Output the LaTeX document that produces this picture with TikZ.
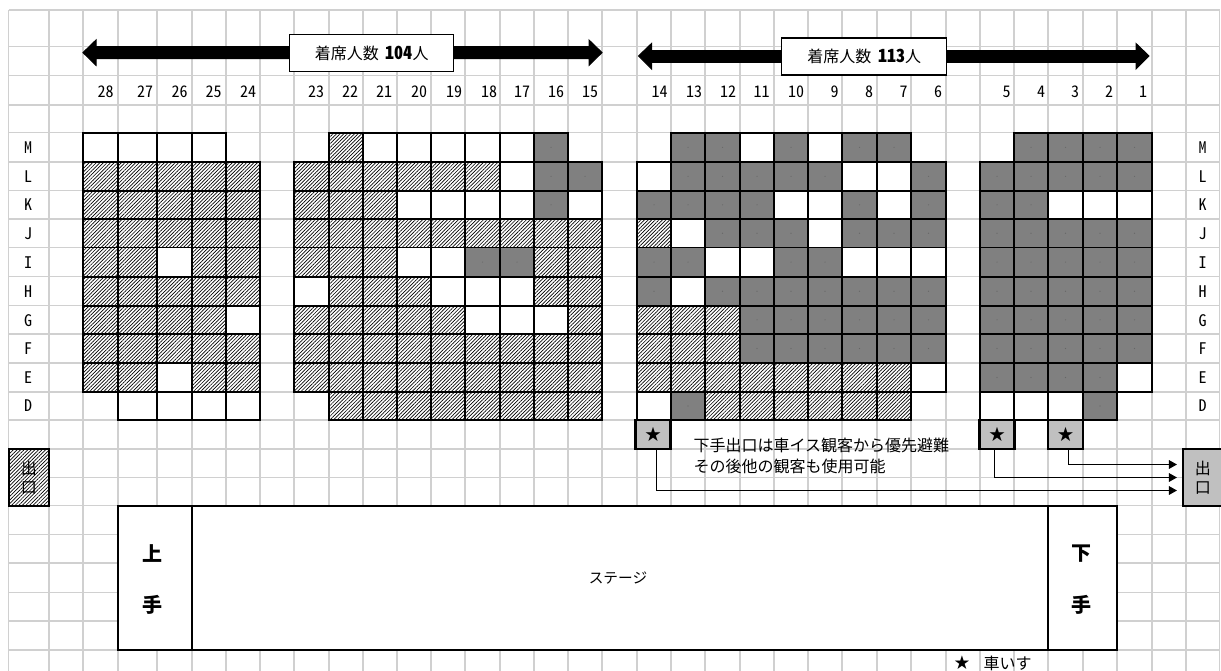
\documentclass[tikz,border=0pt]{standalone}
\usepackage{fontspec}
\setmainfont{Noto Sans CJK JP}
\newfontfamily\halffont[RawFeature=+hwid]{Noto Sans CJK JP}
\usetikzlibrary{arrows.meta,patterns.meta}

\definecolor{gridgray}{RGB}{208,208,208}
\definecolor{soldgray}{RGB}{128,128,128}
\definecolor{exitgray}{RGB}{192,192,192}

\tikzset{every picture/.style={line width=0.75pt},
  gridline/.style={draw=gridgray,line width=1pt},
  hatchfill/.style={preaction={fill=white},pattern={Lines[angle=45,distance=1.9pt,line width=0.5pt]}},
  seat/.style={draw=black,line width=1.25pt,line join=miter},
  seatW/.style={seat,fill=white},
  seatH/.style={seat,hatchfill},
  seatG/.style={seat,fill=soldgray,path picture={\fill[black!60] (path picture bounding box.center) circle (0.6);}},
  seatN/.style={draw=none},
  numtext/.style={font=\halffont\fontsize{12}{14}\selectfont,inner sep=0pt},
  counttext/.style={draw=black,fill=white,line width=0.9pt,font=\fontsize{12}{14}\selectfont,inner sep=0pt},
  starbox/.style={draw=black,fill=exitgray,line width=1.9pt,minimum width=26pt,minimum height=21.5pt,inner sep=0pt,font=\fontsize{12}{14}\selectfont},
  exitbox/.style={draw=black,line width=1.7pt,minimum width=30pt,minimum height=42.5pt,inner sep=0pt,align=center,font=\fontsize{12}{14.25}\selectfont},
  sidetext/.style={font=\bfseries\fontsize{15}{18}\selectfont,inner sep=0pt},
  notetext/.style={font=\fontsize{12}{15.5}\selectfont,inner sep=0pt,align=left,anchor=west},
  exitline/.style={draw=black,line width=0.75pt,-{Triangle[length=6pt,width=6.5pt]},shorten >=3.5pt}
}

\begin{document}
\begin{tikzpicture}[x=0.75pt,y=0.75pt,yscale=-1,xscale=1]
\useasboundingbox (0,0) rectangle (1221,671);

%Sheet grid
\foreach \gridx in {8.5,49,83,118,157,192,226,260,294,329,363,397,431,465,500,534,568,602,637,671,705,740,774,808,842,877,911,946,980,1014,1048,1083,1117,1152,1186,1219.5}
  \draw[gridline] (\gridx,10) -- (\gridx,671);
\foreach \gridy in {10,46.7,75.7,105,132.7,162,190.7,219,247.5,276.7,305.7,334,363,392,420,449,477.7,505.7,534.3,563,592.7,621,650}
  \draw[gridline] (8.5,\gridy) -- (1219.5,\gridy);

%Double Arrow 
\draw [fill=black] (83,52.6) -- (96,40) -- (96,46.7) -- (589,46.7) -- (589,40) -- (602,52.6) -- (589,65.3) -- (589,58.5) -- (96,58.5) -- (96,65.3) -- cycle ;
%Double Arrow 
\draw [fill=black] (638.5,56) -- (651.5,43.5) -- (651.5,50.5) -- (1136,50.5) -- (1136,43.5) -- (1149,56) -- (1136,69) -- (1136,62.3) -- (651.5,62.3) -- (651.5,69) -- cycle ;

% Text Node
\node [counttext,minimum width=123pt,minimum height=27.7pt] (countleft) at (371.7,53.2) {着席人数\hspace{5pt}{\halffont\bfseries\fontsize{13.5}{14}\selectfont 104}人};
% Text Node
\node [counttext,minimum width=124pt,minimum height=27.7pt] (countright) at (864.2,56.5) {着席人数\hspace{5pt}{\halffont\bfseries\fontsize{13.5}{14}\selectfont 113}人};

% Seat numbers
\foreach \seatno/\seatx in {28/105.6,27/145,26/179.5,25/213.5,24/248,23/316,22/350,21/384,20/419,19/454,18/489,17/522,16/556,15/590,14/659.6,13/694,12/728,11/761.5,10/796,9/834.6,8/869,7/903.5,6/938,5/1006.5,4/1041,3/1075,2/1109,1/1143}
  \node [numtext] (no\seatno) at (\seatx,92) {\seatno};

% Row letters
\foreach \rowname/\rowpos in {M/148,L/177,K/205,J/234,I/263,H/291.7,G/320.6,F/349,E/377.6,D/406} {
  \node [numtext] (left\rowname) at (28,\rowpos) {\rowname};
  \node [numtext] (right\rowname) at (1202.7,\rowpos) {\rowname};
}

%Seat blocks, W free, H hatched, G gray, N no seat
\def\seatcols{{83,118,157,192,226,260,294,329,363,397,431,465,500,534,568,602,637,671,705,740,774,808,842,877,911,946,980,1014,1048,1083,1117,1152}}
\def\seatrows{{132.7,162,190.7,219,247.5,276.7,305.7,334,363,392,420}}
\foreach \firstcol/\blockrows in {
  0/{{W,W,W,W,N},{H,H,H,H,H},{H,H,H,H,H},{H,H,H,H,H},{H,H,W,H,H},{H,H,H,H,H},{H,H,H,H,W},{H,H,H,H,H},{H,H,W,H,H},{N,W,W,W,W}},
  6/{{N,H,W,W,W,W,W,G,N},{H,H,H,H,H,H,W,G,G},{H,H,H,W,W,W,W,G,W},{H,H,H,H,H,H,H,H,H},{H,H,H,W,W,G,G,H,H},{W,H,H,H,W,W,W,H,H},{H,H,H,H,H,W,W,W,H},{H,H,H,H,H,H,H,H,H},{H,H,H,H,H,H,H,H,H},{N,H,H,H,H,H,H,H,H}},
  16/{{N,G,G,W,G,W,G,G,N},{W,G,G,G,G,G,W,W,G},{G,G,G,G,W,W,G,W,G},{H,W,G,G,G,W,G,G,G},{G,G,W,W,G,G,W,W,W},{G,W,G,G,G,G,G,G,G},{H,H,H,G,G,G,G,G,G},{H,H,H,G,G,G,G,G,G},{H,H,H,H,H,H,H,H,W},{W,G,H,H,H,H,H,H,N}},
  26/{{N,G,G,G,G},{G,G,G,G,G},{G,G,W,W,W},{G,G,G,G,G},{G,G,G,G,G},{G,G,G,G,G},{G,G,G,G,G},{G,G,G,G,G},{G,G,G,G,W},{W,W,W,G,N}}}
  \foreach \seatline [count=\rowno from 0] in \blockrows
    \foreach \seatkind [count=\colno from \firstcol] in \seatline {
      \pgfmathsetmacro{\cellxa}{\seatcols[\colno]}
      \pgfmathsetmacro{\cellxb}{\seatcols[\colno+1]}
      \pgfmathsetmacro{\cellya}{\seatrows[\rowno]}
      \pgfmathsetmacro{\cellyb}{\seatrows[\rowno+1]}
      \path [seat\seatkind] (\cellxa,\cellya) rectangle (\cellxb,\cellyb);
    }

% Star boxes
\node [starbox] (star14) at (653,434.5) {★};
\node [starbox] (star5) at (997,434.5) {★};
\node [starbox] (star3) at (1065.5,434.5) {★};

% Note
\node [notetext] (notetext) at (693,456) {下手出口は車イス観客から優先避難\\その後他の観客も使用可能};

% Exit boxes
\node [exitbox,hatchfill] (exitleft) at (28.75,477.5) {出\\口};
\node [exitbox,fill=exitgray] (exitright) at (1202.75,477.5) {出\\口};

% Exit routes
\draw [exitline] ([xshift=2.25pt]star14.south) |- ([yshift=9.75pt]exitright.west);
\draw [exitline] ([xshift=-2.25pt]star5.south) |- (exitright.west);
\draw [exitline] ([xshift=2.25pt]star3.south) |- ([yshift=-9.75pt]exitright.west);

%Stage
\draw [fill=white,line width=1.2pt] (118,505.7) rectangle (1117,650);
\draw [line width=1.2pt] (192,505.7) -- (192,650);
\draw [line width=1.2pt] (1048,505.7) -- (1048,650);

% Text Node
\node [inner sep=0pt,font=\fontsize{11}{13}\selectfont] (stagename) at (618,578) {ステージ};
\node [sidetext] (kamia) at (152.7,554) {上};
\node [sidetext] (kamib) at (152.7,605) {手};
\node [sidetext] (shimoa) at (1081,554) {下};
\node [sidetext] (shimob) at (1081,605) {手};

% Legend
\node [inner sep=0pt,font=\fontsize{11.5}{13}\selectfont] (legendstar) at (962,663) {★};
\node [inner sep=0pt,font=\fontsize{12}{14}\selectfont,anchor=west] (legendtext) at (983,663) {車いす};
\end{tikzpicture}
\end{document}
